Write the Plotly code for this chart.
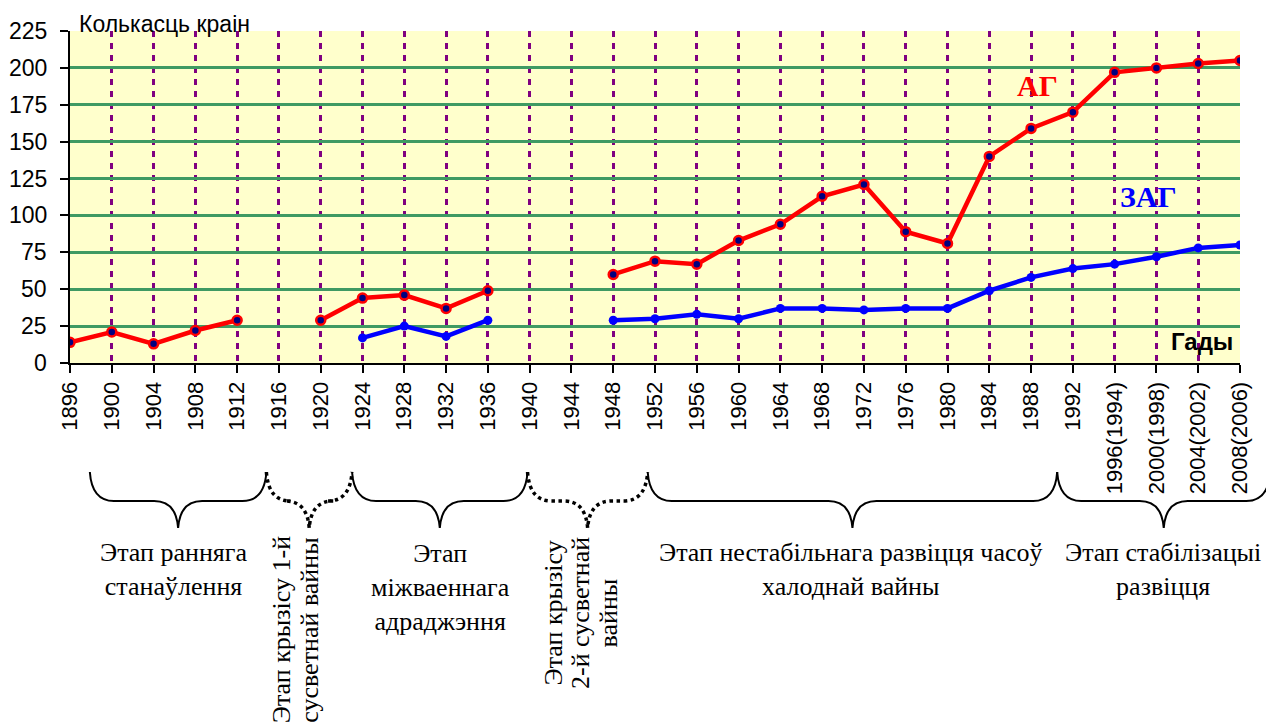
import plotly.graph_objects as go

# ---------------- data ----------------
years = list(range(1896, 2009, 4))
tick_labels = [str(y) for y in years[:-4]] + ["1996(1994)", "2000(1998)", "2004(2002)", "2008(2006)"]
ag = [14, 21, 13, 22, 29, None, 29, 44, 46, 37, 49, None, None, 60, 69, 67, 83, 94,
      113, 121, 89, 81, 140, 159, 170, 197, 200, 203, 205]
zag = [None, None, None, None, None, None, None, 17, 25, 18, 29, None, None, 29, 30, 33,
       30, 37, 37, 36, 37, 37, 49, 58, 64, 67, 72, 78, 80]
y_ticks = [0, 25, 50, 75, 100, 125, 150, 175, 200, 225]

# stages: (start year, end year, dotted?)
stage_spans = [(1897.9, 1914.8, False), (1914.8, 1923.0, True), (1923.0, 1939.8, False),
               (1939.8, 1951.3, True), (1951.3, 1990.5, False), (1990.5, 2010.9, False)]
stage_lines = [["Этап ранняга", "станаўлення"],
               ["Этап крызісу 1-й", "сусветнай вайны"],
               ["Этап", "міжваеннага", "адраджэння"],
               ["Этап крызісу", "2-й сусветнай", "вайны"],
               ["Этап нестабільнага развіцця часоў", "халоднай вайны"],
               ["Этап стабілізацыі", "развіцця"]]

# ---------------- geometry helpers (page pixels) ----------------
OFF = 8                      # default page body margin
W, H = 1274 - OFF, 726 - OFF  # figure size
L, R, T, B = 70, 1240, 31, 363  # plot area in page pixels


def px(x):
    return (x - L) / (R - L)


def py(y):
    return (B - y) / (B - T)


def yr2px(yr):
    return L + (yr - 1896) / (2008 - 1896) * (R - L)


fig = go.Figure()

fig.add_trace(go.Scatter(
    x=years, y=ag, mode="lines+markers", name="АГ", connectgaps=False,
    line=dict(color="#ff0000", width=4.5),
    marker=dict(size=9, color="#000080", line=dict(color="#ff0000", width=2.5)),
))
fig.add_trace(go.Scatter(
    x=years, y=zag, mode="lines+markers", name="ЗАГ", connectgaps=False,
    line=dict(color="#0000ff", width=4.5),
    marker=dict(size=9, color="#0000ff"),
))


# ---------------- braces ----------------
def brace_path(x0, x1, xm, yt=472, yh=501, ytip=528, r=24):
    def P(x, y):
        return f"{px(x):.5f},{py(y):.5f}"
    return (f"M {P(x0, yt)} Q {P(x0 + 2, yh)} {P(x0 + r, yh)} "
            f"L {P(xm - r, yh)} Q {P(xm - 2, yh)} {P(xm, ytip)} "
            f"Q {P(xm + 2, yh)} {P(xm + r, yh)} "
            f"L {P(x1 - r, yh)} Q {P(x1 - 2, yh)} {P(x1, yt)}")


for (s, e, dotted) in stage_spans:
    x0, x1 = yr2px(s), yr2px(e)
    xm = (x0 + x1) / 2
    fig.add_shape(type="path", xref="paper", yref="paper",
                  path=brace_path(x0, x1, xm),
                  line=dict(color="black", width=3.5 if dotted else 2,
                            dash="dot" if dotted else "solid"))

# stage labels: (center x, center y, rotated?)
label_pos = [(173, 569, False), (295, 630, True), (440, 587, False), (580, 613, True),
             (851, 569, False), (1163, 569, False)]
serif = dict(family="Liberation Serif, Times New Roman, serif", size=26, color="black")
for lines, (lx, ly, rot) in zip(stage_lines, label_pos):
    if not rot:
        fig.add_annotation(x=px(lx), y=py(ly), xref="paper", yref="paper",
                           text="<br>".join(lines), showarrow=False, align="center",
                           xanchor="center", yanchor="middle", font=serif)
    else:
        n = len(lines)
        step = 27.5
        for i, ln in enumerate(lines):
            cx = lx + (i - (n - 1) / 2) * step
            fig.add_annotation(x=px(cx), y=py(ly), xref="paper", yref="paper",
                               text=ln, showarrow=False, textangle=-90,
                               xanchor="center", yanchor="middle", font=serif)

# y tick labels (drawn as text so that their gap to the axis matches)
for v in y_ticks:
    fig.add_annotation(x=px(49), y=v, xref="paper", yref="y", text=str(v),
                       showarrow=False, xanchor="right", yanchor="middle",
                       font=dict(family="Liberation Sans", size=23, color="black"))

# ---------------- other text ----------------
fig.add_annotation(x=px(77), y=py(9), xref="paper", yref="paper", text="Колькасць краін",
                   showarrow=False, xanchor="left", yanchor="top",
                   font=dict(family="Liberation Sans", size=23, color="black"))
fig.add_annotation(x=px(1037), y=py(85), xref="paper", yref="paper", text="<b>АГ</b>",
                   showarrow=False, xanchor="center", yanchor="middle",
                   font=dict(family="Liberation Serif", size=30, color="#ff0000"))
fig.add_annotation(x=px(1148), y=py(196), xref="paper", yref="paper", text="<b>ЗАГ</b>",
                   showarrow=False, xanchor="center", yanchor="middle",
                   font=dict(family="Liberation Serif", size=30, color="#0000ff"))
fig.add_annotation(x=px(1202), y=py(341), xref="paper", yref="paper", text="<b>Гады</b>",
                   showarrow=False, xanchor="center", yanchor="middle",
                   font=dict(family="Liberation Sans", size=24, color="black"))

fig.update_layout(
    width=W, height=H,
    margin=dict(l=L - OFF, r=W - (R - OFF), t=T - OFF, b=H - (B - OFF), pad=0),
    paper_bgcolor="white", plot_bgcolor="#ffffcc",
    showlegend=False,
    xaxis=dict(range=[1896, 2008], tickmode="array", tickvals=years, ticktext=tick_labels,
               tickangle=-90, ticks="outside", ticklen=8, tickwidth=2, tickcolor="black",
               showline=True, linecolor="black", linewidth=2, automargin=False,
               showgrid=True, gridcolor="#800080", gridwidth=3, griddash="6px,6px",
               zeroline=False,
               tickfont=dict(family="Liberation Sans", size=22, color="black")),
    yaxis=dict(range=[0, 225], tickmode="array", tickvals=y_ticks, showticklabels=False,
               ticks="outside", ticklen=8, tickwidth=2, tickcolor="black",
               showline=True, linecolor="black", linewidth=2, automargin=False,
               showgrid=True, gridcolor="#3f9a63", gridwidth=2.5, zeroline=False),
)

fig.write_html("out.html")
